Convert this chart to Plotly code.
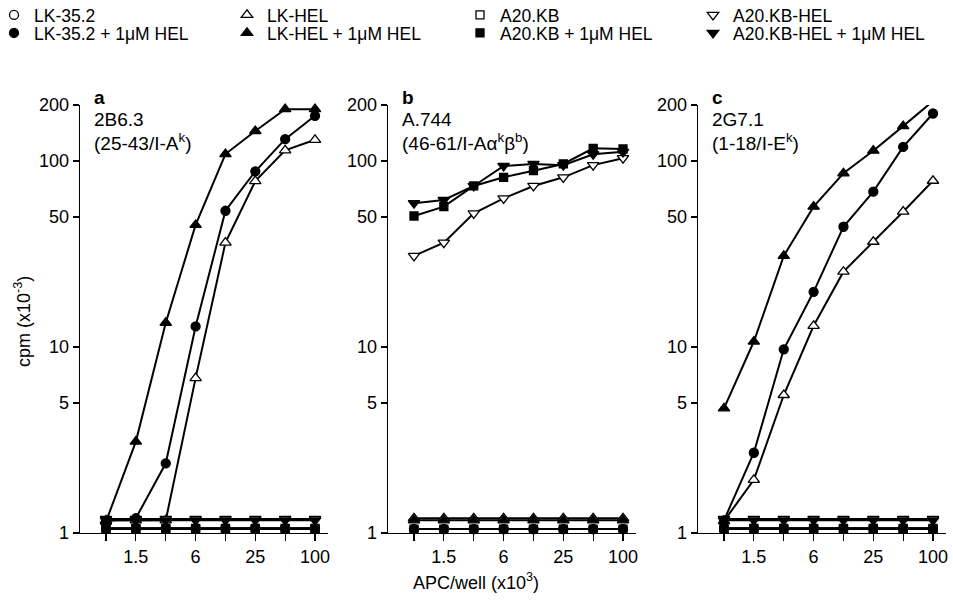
import plotly.graph_objects as go

# ---- data -------------------------------------------------------------
dose = [0.78, 1.56, 3.125, 6.25, 12.5, 25, 50, 100]          # APC/well (x10^3)
x_tickvals = [0.78, 1.56, 3.125, 6.25, 12.5, 25, 50, 100]
x_ticktext = ["", "1.5", "", "6", "", "25", "", "100"]
y_tickvals = [1, 5, 10, 50, 100, 200]
y_ticktext = ["1", "5", "10", "50", "100", "200"]

series_names = ["LK-35.2", "LK-HEL", "A20.KB", "A20.KB-HEL",
                "LK-35.2 + 1μM HEL", "LK-HEL + 1μM HEL",
                "A20.KB + 1μM HEL", "A20.KB-HEL + 1μM HEL"]

# panel a : 2B6.3 (25-43/I-A^k)
a_lk352          = [1.06, 1.06, 1.06, 1.06, 1.06, 1.06, 1.06, 1.06]
a_lkhel          = [1.17, 1.17, 1.17, 6.8, 36.4, 78, 114, 130]
a_a20kb          = [1.06, 1.06, 1.06, 1.06, 1.06, 1.06, 1.06, 1.06]
a_a20kbhel       = [1.19, 1.19, 1.19, 1.19, 1.19, 1.19, 1.19, 1.19]
a_lk352_hel      = [1.16, 1.2, 2.37, 12.9, 54, 88, 131, 175]
a_lkhel_hel      = [1.15, 3.1, 13.5, 45.3, 109, 145, 190, 190]
a_a20kb_hel      = [1.05, 1.05, 1.05, 1.05, 1.05, 1.05, 1.05, 1.05]
a_a20kbhel_hel   = [1.17, 1.17, 1.17, 1.17, 1.17, 1.17, 1.17, 1.17]

# panel b : A.744 (46-61/I-Aα^kβ^b)
b_lk352          = [1.05, 1.05, 1.05, 1.05, 1.05, 1.05, 1.05, 1.05]
b_lkhel          = [1.2, 1.2, 1.2, 1.2, 1.2, 1.2, 1.2, 1.2]
b_a20kb          = [1.05, 1.05, 1.05, 1.05, 1.05, 1.05, 1.05, 1.05]
b_a20kbhel       = [30.9, 36.4, 52.3, 63, 73.4, 81.7, 95, 103.5]
b_lk352_hel      = [1.05, 1.05, 1.05, 1.05, 1.05, 1.05, 1.05, 1.05]
b_lkhel_hel      = [1.17, 1.17, 1.17, 1.17, 1.17, 1.17, 1.17, 1.17]
b_a20kb_hel      = [50.6, 56.8, 73.4, 81.7, 88.7, 96.4, 117, 116]
b_a20kbhel_hel   = [59.3, 61.7, 73.4, 94, 96.4, 95, 108.7, 112]

# panel c : 2G7.1 (1-18/I-E^k)
c_lk352          = [1.06, 1.06, 1.06, 1.06, 1.06, 1.06, 1.06, 1.06]
c_lkhel          = [1.16, 1.93, 5.52, 13.0, 25.4, 36.8, 53.4, 78.3]
c_a20kb          = [1.06, 1.06, 1.06, 1.06, 1.06, 1.06, 1.06, 1.06]
c_a20kbhel       = [1.19, 1.19, 1.19, 1.19, 1.19, 1.19, 1.19, 1.19]
c_lk352_hel      = [1.17, 2.70, 9.72, 19.8, 44.3, 68.4, 119, 180]
c_lkhel_hel      = [4.68, 10.7, 30.9, 56.8, 85.9, 113.6, 154, 210]
c_a20kb_hel      = [1.05, 1.05, 1.05, 1.05, 1.05, 1.05, 1.05, 1.05]
c_a20kbhel_hel   = [1.17, 1.17, 1.17, 1.17, 1.17, 1.17, 1.17, 1.17]

panel_letters = ["a", "b", "c"]
panel_clones = ["2B6.3", "A.744", "2G7.1"]
panel_specs = ["(25-43/I-A<sup>k</sup>)", "(46-61/I-Aα<sup>k</sup>β<sup>b</sup>)",
               "(1-18/I-E<sup>k</sup>)"]

panels = [
    [a_lk352, a_lkhel, a_a20kb, a_a20kbhel, a_lk352_hel, a_lkhel_hel, a_a20kb_hel, a_a20kbhel_hel],
    [b_lk352, b_lkhel, b_a20kb, b_a20kbhel, b_lk352_hel, b_lkhel_hel, b_a20kb_hel, b_a20kbhel_hel],
    [c_lk352, c_lkhel, c_a20kb, c_a20kbhel, c_lk352_hel, c_lkhel_hel, c_a20kb_hel, c_a20kbhel_hel],
]

# ---- styles -----------------------------------------------------------
FONT = "Liberation Sans, Arial, Helvetica, sans-serif"
W, H = 953, 603
symbols = ["circle", "triangle-up", "square", "triangle-down",
           "circle", "triangle-up", "square", "triangle-down"]
fills = ["white"] * 4 + ["black"] * 4
sizes = {"circle": 9, "triangle-up": 10, "square": 8, "triangle-down": 10}

x_domains = [[80 / W, 328 / W], [388 / W, 636 / W], [698 / W, 946 / W]]
y_domain = [1 - 533 / H, 1 - 105 / H]

fig = go.Figure()

for p, pdata in enumerate(panels):
    xa = "x" if p == 0 else f"x{p + 1}"
    ya = "y" if p == 0 else f"y{p + 1}"
    for s, vals in enumerate(pdata):
        fig.add_trace(go.Scatter(
            x=dose, y=vals, xaxis=xa, yaxis=ya, mode="lines",
            line=dict(color="black", width=2), showlegend=False,
            hoverinfo="skip", cliponaxis=False))
    for s, vals in enumerate(pdata):
        fig.add_trace(go.Scatter(
            x=dose, y=vals, xaxis=xa, yaxis=ya, mode="markers",
            name=series_names[s],
            legend="legend" if s < 4 else "legend2",
            showlegend=(p == 0),
            marker=dict(symbol=symbols[s], size=sizes[symbols[s]], color=fills[s],
                        line=dict(color="black", width=1.3)),
            cliponaxis=False))

LEG_FONT = dict(family=FONT, size=17.5, color="black")
leg_common = dict(orientation="h", xanchor="left", yanchor="middle",
                  entrywidth=194, entrywidthmode="pixels", itemwidth=30,
                  indentation=-6,
                  font=LEG_FONT, bgcolor="rgba(0,0,0,0)", borderwidth=0,
                  itemclick=False, itemdoubleclick=False)

layout = dict(
    width=W, height=H, autosize=False,
    margin=dict(l=0, r=0, t=0, b=0, autoexpand=False),
    paper_bgcolor="white", plot_bgcolor="white",
    font=dict(family=FONT, size=18, color="black"),
    showlegend=True,
    legend=dict(x=0, y=1 - 15 / H, **leg_common),
    legend2=dict(x=0, y=1 - 33 / H, **leg_common),
)

for p in range(3):
    xk = "xaxis" if p == 0 else f"xaxis{p + 1}"
    yk = "yaxis" if p == 0 else f"yaxis{p + 1}"
    layout[xk] = dict(
        type="log", domain=x_domains[p], range=[-0.370, 2.131],
        anchor="y" if p == 0 else f"y{p + 1}",
        tickvals=x_tickvals, ticktext=x_ticktext, ticks="outside", ticklen=7,
        tickwidth=1.2, tickcolor="black", showline=True, linecolor="black",
        linewidth=1.3, showgrid=False, zeroline=False,
        tickfont=dict(family=FONT, size=18), fixedrange=True)
    layout[yk] = dict(
        type="log", domain=y_domain, range=[0, 2.30103],
        anchor="x" if p == 0 else f"x{p + 1}",
        tickvals=y_tickvals, ticktext=y_ticktext, ticks="outside", ticklen=6,
        tickwidth=1.2, tickcolor="black", showline=True, linecolor="black",
        linewidth=1.3, showgrid=False, zeroline=False,
        tickfont=dict(family=FONT, size=18), fixedrange=True)

annotations = []
for p in range(3):
    x0 = x_domains[p][0] + 12 / W
    annotations.append(dict(xref="paper", yref="paper", x=x0, y=1 - 97 / H,
                            xanchor="left", yanchor="middle", showarrow=False,
                            text="<b>" + panel_letters[p] + "</b>",
                            font=dict(family=FONT, size=19)))
    annotations.append(dict(xref="paper", yref="paper", x=x0, y=1 - 120 / H,
                            xanchor="left", yanchor="middle", showarrow=False,
                            text=panel_clones[p], font=dict(family=FONT, size=19)))
    annotations.append(dict(xref="paper", yref="paper", x=x0, y=1 - 142 / H,
                            xanchor="left", yanchor="middle", showarrow=False,
                            text=panel_specs[p], font=dict(family=FONT, size=19)))

annotations.append(dict(xref="paper", yref="paper", x=22 / W, y=1 - 322 / H,
                        xanchor="center", yanchor="middle", showarrow=False,
                        textangle=-90, text="cpm (x10<sup>-3</sup>)",
                        font=dict(family=FONT, size=18)))
annotations.append(dict(xref="paper", yref="paper", x=476 / W, y=1 - 581 / H,
                        xanchor="center", yanchor="middle", showarrow=False,
                        text="APC/well (x10<sup>3</sup>)",
                        font=dict(family=FONT, size=18)))
layout["annotations"] = annotations

fig.update_layout(**layout)
fig.write_html("out.html", config={"displayModeBar": False, "staticPlot": True},
               post_script="document.body.style.margin='0';document.body.style.overflow='hidden';")
